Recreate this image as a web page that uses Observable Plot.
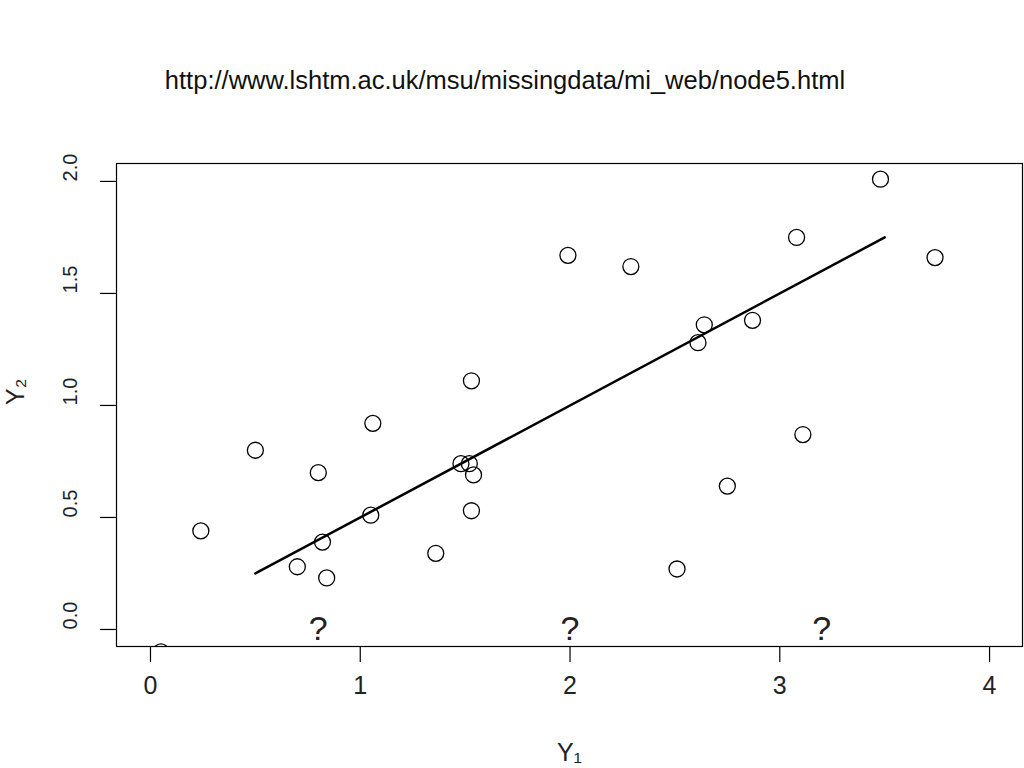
<!DOCTYPE html>
<html>
<head>
<meta charset="utf-8">
<script src="https://cdn.jsdelivr.net/npm/d3@7"></script>
<script src="https://cdn.jsdelivr.net/npm/@observablehq/plot@0.6"></script>
<style>
  html, body { margin: 0; padding: 0; background: white; }
  #title { width: 1024px; height: 130px; box-sizing: border-box; padding-top: 64px; padding-right: 14px;
    text-align: center; font-family: "Liberation Sans", Arial, sans-serif; font-size: 25.5px; line-height: 32px; color: #111; }
  #chart svg { display: block; }
</style>
</head>
<body>
<div id="title">http://www.lshtm.ac.uk/msu/missingdata/mi_web/node5.html</div>
<div id="chart"></div>
<script>
// Observed data (Y1, Y2)
const y1Values = [0.05, 0.24, 0.50, 0.70, 0.80, 0.82, 0.84, 1.06, 1.05, 1.36, 1.48, 1.52, 1.54, 1.53, 1.53, 1.99, 2.29, 2.51, 2.61, 2.64, 2.75, 2.87, 3.08, 3.11, 3.48, 3.74];
const y2Values = [-0.10, 0.44, 0.80, 0.28, 0.70, 0.39, 0.23, 0.92, 0.51, 0.34, 0.74, 0.74, 0.69, 1.11, 0.53, 1.67, 1.62, 0.27, 1.28, 1.36, 0.64, 1.38, 1.75, 0.87, 2.01, 1.66];
// Regression line end points
const lineX = [0.5, 3.5];
const lineY = [0.25, 1.75];
// Missing Y2 markers
const missingX = [0.8, 2.0, 3.2];
const missingY = [0, 0, 0];
const missingLabel = ["?", "?", "?"];
// Axis ticks
const xTicks = [0, 1, 2, 3, 4];
const yTicks = [0, 0.5, 1.0, 1.5, 2.0];
const xTickLabels = ["0", "1", "2", "3", "4"];
const yTickLabels = ["0.0", "0.5", "1.0", "1.5", "2.0"];
const xLabel = "Y\u2081";
const yLabel = "Y\u2082";

const points = y1Values.map((v, i) => ({x: v, y: y2Values[i]}));
const line = lineX.map((v, i) => ({x: v, y: lineY[i]}));
const missing = missingX.map((v, i) => ({x: v, y: missingY[i], t: missingLabel[i]}));

const font = "'Liberation Sans', Arial, sans-serif";

const chart = Plot.plot({
  width: 1024,
  height: 638,
  marginLeft: 116,
  marginRight: 2,
  marginTop: 33,
  marginBottom: 122,
  x: {domain: [-0.162, 4.157]},
  y: {domain: [-0.076, 2.080]},
  style: {fontFamily: font, background: "white", color: "black"},
  marks: [
    Plot.frame({stroke: "black", strokeWidth: 1.2}),
    Plot.axisX(xTicks, {tickSize: 16, tickFormat: () => "", label: null, strokeWidth: 1.2}),
    Plot.axisY(yTicks, {tickSize: 16, tickFormat: () => "", label: null, strokeWidth: 1.2}),
    Plot.text(xTicks, {x: d => d, text: (d, i) => xTickLabels[i], frameAnchor: "bottom", dy: 47, fontSize: 25, fill: "#222"}),
    Plot.text(yTicks, {y: d => d, text: (d, i) => yTickLabels[i], frameAnchor: "left", dx: -46, rotate: -90, fontSize: 20, fill: "#222"}),
    Plot.line(line, {x: "x", y: "y", stroke: "black", strokeWidth: 2.5}),
    Plot.dot(points, {x: "x", y: "y", r: 8, stroke: "black", strokeWidth: 1.3, fill: "none", clip: true}),
    Plot.text(missing, {x: "x", y: "y", text: "t", fontSize: 34, fill: "#222"}),
    Plot.text([xLabel], {text: d => d, frameAnchor: "bottom", dy: 114, fontSize: 25, fill: "#222"}),
    Plot.text([yLabel], {text: d => d, frameAnchor: "left", dx: -101, rotate: -90, fontSize: 25, fill: "#222"})
  ]
});
document.getElementById("chart").appendChild(chart);
</script>
</body>
</html>
